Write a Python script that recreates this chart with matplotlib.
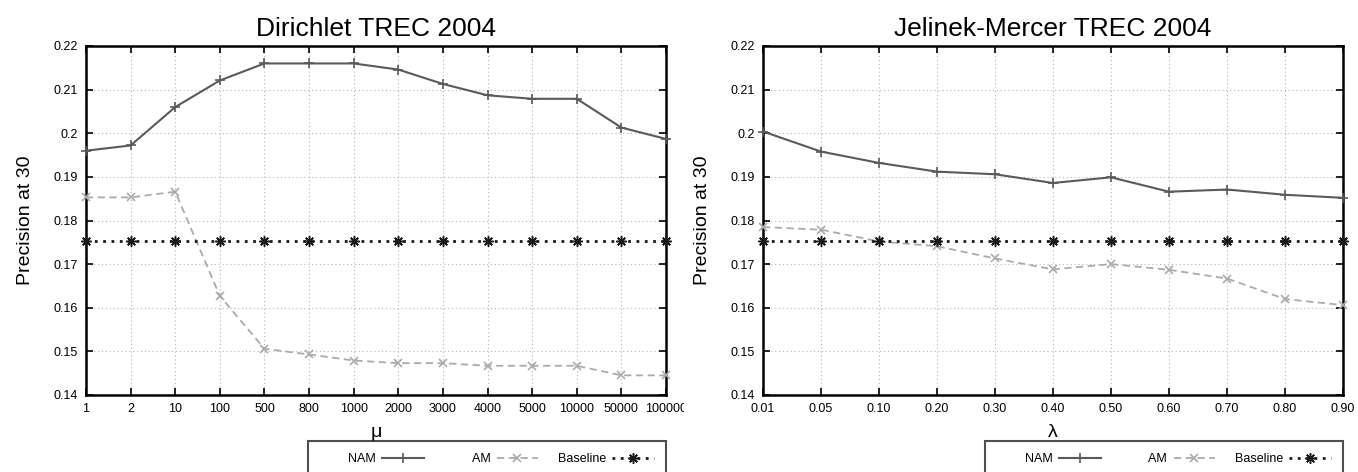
import numpy as np
import matplotlib
matplotlib.use("Agg")
import matplotlib.pyplot as plt
from matplotlib.transforms import Bbox, TransformedBbox

plt.rcParams['font.family'] = ['Liberation Sans', 'DejaVu Sans']

# Dirichlet smoothing (mu)
mu_labels = ["1", "2", "10", "100", "500", "800", "1000", "2000", "3000",
             "4000", "5000", "10000", "50000", "100000"]
dir_nam = [0.1960, 0.1972, 0.2060, 0.2121, 0.2160, 0.2160, 0.2160, 0.2146,
           0.2113, 0.2087, 0.2079, 0.2079, 0.2013, 0.1987]
dir_am = [0.1853, 0.1853, 0.1866, 0.1627, 0.1506, 0.1493, 0.1479, 0.1473,
          0.1473, 0.1467, 0.1467, 0.1467, 0.1445, 0.1445]
dir_base = [0.1752] * len(mu_labels)

# Jelinek-Mercer smoothing (lambda)
lam_labels = ["0.01", "0.05", "0.10", "0.20", "0.30", "0.40", "0.50",
              "0.60", "0.70", "0.80", "0.90"]
jm_nam = [0.2004, 0.1958, 0.1932, 0.1912, 0.1906, 0.1886, 0.1899,
          0.1866, 0.1871, 0.1859, 0.1852]
jm_am = [0.1785, 0.1779, 0.1752, 0.1741, 0.1713, 0.1688, 0.1700,
         0.1687, 0.1667, 0.1620, 0.1606]
jm_base = [0.1752] * len(lam_labels)

series_names = ["NAM", "AM", "Baseline"]
y_ticks = [0.14, 0.15, 0.16, 0.17, 0.18, 0.19, 0.20, 0.21, 0.22]
y_tick_labels = ["0.14", "0.15", "0.16", "0.17", "0.18", "0.19", "0.2", "0.21", "0.22"]

W, H = 1358, 472
fig = plt.figure(figsize=(W / 100, H / 100), dpi=100)

panels = [
    (86, "Dirichlet TREC 2004", "\u03bc", mu_labels, dir_nam, dir_am, dir_base),
    (763, "Jelinek-Mercer TREC 2004", "\u03bb", lam_labels, jm_nam, jm_am, jm_base),
]

# legend labels right-justified like gnuplot keys
fs = "\u2007"
padded = {"NAM": fs * 4 + "NAM", "AM": fs * 4 + "AM", "Baseline": "Baseline"}

for left_px, title, xlab, xl, nam, am, base in panels:
    ax = fig.add_axes([left_px / W, 1 - 395 / H, 580 / W, 349 / H])
    x = np.arange(len(xl))
    ax.plot(x, nam, color='#5a5a5a', lw=1.5, marker='+', ms=7, mew=1.2,
            clip_on=False, zorder=4, label=padded[series_names[0]])
    ax.plot(x, am, color='#ababab', lw=1.3, ls=(0, (4, 2.5)), marker='x', ms=5.5, mew=1.2,
            clip_on=False, zorder=3, label=padded[series_names[1]])
    ax.plot(x, base, color='#1a1a1a', lw=2, ls=(0, (1, 2)), marker=(8, 2, 0), ms=7.5, mew=1.1,
            clip_on=False, zorder=5, label=padded[series_names[2]])

    ax.set_xlim(0, len(xl) - 1)
    ax.set_ylim(0.14, 0.22)
    ax.set_xticks(x)
    ax.set_xticklabels(xl, fontsize=9)
    ax.set_yticks(y_ticks)
    ax.set_yticklabels(y_tick_labels, fontsize=9)
    ax.tick_params(direction='in', length=5, width=1.2, top=True, right=True, pad=6)
    ax.grid(True, color='#b5b5b5', ls=(0, (1, 2.5)), lw=0.8)
    for s in ax.spines.values():
        s.set_linewidth(1.8)
    ax.set_title(title, fontsize=19, pad=7)
    ax.set_ylabel("Precision at 30", fontsize=14, labelpad=14)
    ax.set_xlabel(xlab, fontsize=14, labelpad=6)

    leg = ax.legend(loc='upper right', bbox_to_anchor=((left_px + 580) / W, 1 - 441 / H),
                    bbox_transform=fig.transFigure, ncol=3, markerfirst=False,
                    fontsize=9, handlelength=3.3, handletextpad=0.5, columnspacing=1.6,
                    borderpad=1.0, borderaxespad=0, fancybox=False, frameon=True,
                    numpoints=1)
    leg.get_frame().set_edgecolor('#222222')
    leg.get_frame().set_linewidth(1.5)

# the left panel's last tick label is cut at the panel edge in the original
fig.canvas.draw()
last = fig.axes[0].get_xticklabels()[-1]
last.set_clip_box(TransformedBbox(Bbox.from_extents(0, 0, 684 / W, 1), fig.transFigure))
last.set_clip_on(True)

fig.savefig("out.png", dpi=100)
